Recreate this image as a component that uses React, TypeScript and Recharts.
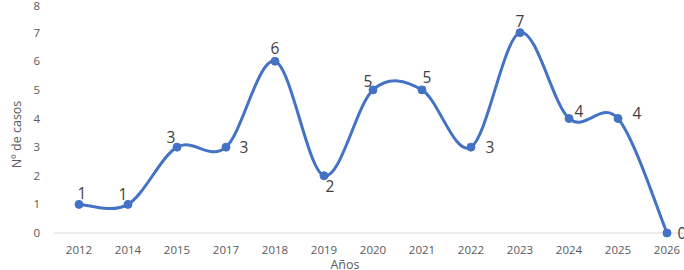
import { LineChart, Line, XAxis, YAxis, LabelList } from 'recharts'

const years = ['2012', '2014', '2015', '2017', '2018', '2019', '2020', '2021', '2022', '2023', '2024', '2025', '2026']
const cases = [1, 1, 3, 3, 6, 2, 5, 5, 3, 7, 4, 4, 0]
const yTicks = [0, 1, 2, 3, 4, 5, 6, 7, 8]

// where each data label sits relative to its point (dx, dy)
const labelOffsets: [number, number][] = [
  [3, -11], [-5, -10], [-6, -10], [18, 0], [0, -13], [6, 10], [-5, -9],
  [5, -13], [19, 0], [0, -12], [10, -8], [19, -6], [15, 0],
]

const data = years.map((year, i) => ({ year, cases: cases[i] }))

// Excel-like smoothing: cubic bezier with control points at 1/6 of neighbour span
// eslint-disable-next-line @typescript-eslint/no-explicit-any
const excelSmooth = (context: any) => {
  let pts: [number, number][] = []
  return {
    areaStart() {},
    areaEnd() {},
    lineStart() {
      pts = []
    },
    point(x: number, y: number) {
      pts.push([+x, +y])
    },
    lineEnd() {
      if (!pts.length) return
      context.moveTo(pts[0][0], pts[0][1])
      for (let i = 0; i < pts.length - 1; i++) {
        const p0 = pts[i - 1] || pts[i]
        const p1 = pts[i]
        const p2 = pts[i + 1]
        const p3 = pts[i + 2] || p2
        context.bezierCurveTo(
          p1[0] + (p2[0] - p0[0]) / 6,
          p1[1] + (p2[1] - p0[1]) / 6,
          p2[0] - (p3[0] - p1[0]) / 6,
          p2[1] - (p3[1] - p1[1]) / 6,
          p2[0],
          p2[1]
        )
      }
    },
  }
}

// eslint-disable-next-line @typescript-eslint/no-explicit-any
const renderLabel = (props: any) => {
  const { x, y, value, index } = props
  const [dx, dy] = labelOffsets[index] || [0, -12]
  return (
    <text
      x={x + dx}
      y={y + dy}
      textAnchor="middle"
      dominantBaseline="central"
      fontSize={15.5}
      fill="#404040"
    >
      {value}
    </text>
  )
}

export default function App() {
  return (
    <div
      style={{
        position: 'absolute',
        left: 0,
        top: 0,
        width: 684,
        height: 270,
        overflow: 'hidden',
        background: '#fff',
        fontFamily: '"Open Sans", sans-serif',
      }}
    >
      <LineChart
        width={700}
        height={270}
        data={data}
        margin={{ top: 4, right: 8, left: 0, bottom: 0 }}
      >
        <XAxis
          dataKey="year"
          padding={{ left: 25, right: 25 }}
          axisLine={{ stroke: '#D9D9D9' }}
          tickLine={false}
          tickSize={0}
          tickMargin={13}
          height={37}
          tick={{ fontSize: 11.5, fill: '#595959' }}
          interval={0}
          label={{ value: 'Años', position: 'insideBottom', dx: -28, dy: 4, fontSize: 12.5, fill: '#595959' }}
        />
        <YAxis
          domain={[0, 8]}
          ticks={yTicks}
          width={54}
          axisLine={false}
          tickLine={false}
          tickSize={0}
          tickMargin={14}
          tick={{ fontSize: 11.5, fill: '#595959' }}
          label={{ value: 'Nº de casos', angle: -90, position: 'insideLeft', dx: 12, dy: 16, fontSize: 12.5, fill: '#595959', textAnchor: 'middle' }}
        />
        <Line
          dataKey="cases"
          type={excelSmooth}
          stroke="#4472C4"
          strokeWidth={3}
          dot={{ r: 4, fill: '#4472C4', stroke: '#4472C4', strokeWidth: 1 }}
          isAnimationActive={false}
        >
          <LabelList dataKey="cases" content={renderLabel} />
        </Line>
      </LineChart>
    </div>
  )
}
